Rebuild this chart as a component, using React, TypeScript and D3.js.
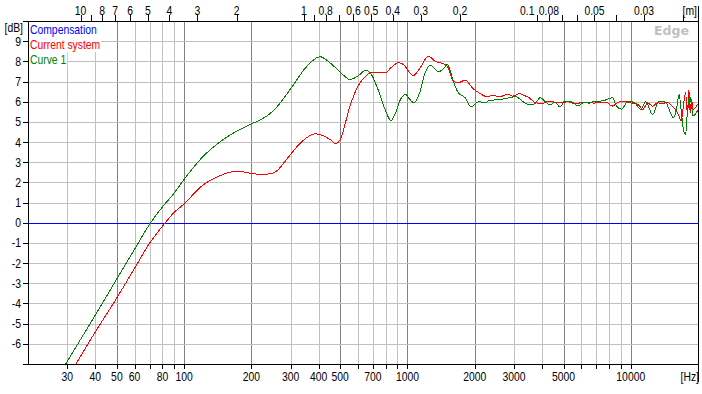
import React, { useEffect, useRef } from 'react';
import * as d3 from 'd3';

// Frequency response data (Hz, dB)
const currentFreq = [32.8, 40, 50, 60, 70, 80, 90, 100, 120, 150, 172, 200, 219, 240, 262, 280, 300, 325, 350, 388, 450, 478, 500, 553, 600, 656, 682, 794, 843, 911, 959, 1010, 1063, 1140, 1241, 1330, 1424, 1500, 1606, 1690, 1811, 1973, 2120, 2265, 2420, 2590, 2816, 2960, 3167, 3330, 3500, 3740, 4000, 4280, 4580, 4900, 5240, 5600, 6000, 6410, 6860, 7090, 7840, 8250, 8820, 9270, 9900, 10780, 11330, 11910, 12520, 13160, 13840, 14550, 15300, 15800, 16330, 16800, 17200, 17600, 17960, 18200, 18450, 18700, 19000, 20000];
const currentDb = [-7.0, -5.42, -3.72, -2.26, -1.02, -0.17, 0.5, 0.94, 1.82, 2.4, 2.56, 2.45, 2.4, 2.42, 2.6, 2.98, 3.39, 3.85, 4.18, 4.41, 4.13, 3.92, 4.13, 5.78, 6.77, 7.3, 7.43, 7.43, 7.68, 7.93, 7.85, 7.52, 7.3, 7.68, 8.26, 8.01, 7.9, 7.8, 7.02, 6.94, 7.07, 6.64, 6.4, 6.25, 6.31, 6.25, 6.36, 6.28, 6.4, 6.31, 6.2, 5.95, 5.9, 6.03, 5.98, 5.95, 6.0, 5.9, 5.95, 5.98, 5.93, 5.95, 5.95, 5.78, 5.98, 6.03, 5.95, 5.86, 5.62, 5.95, 5.78, 5.95, 5.9, 5.98, 5.78, 5.62, 5.37, 5.04, 5.78, 6.45, 5.29, 6.6, 5.45, 6.11, 5.62, 5.9];

const curve1Freq = [29.5, 40, 50, 60, 70, 80, 90, 100, 120, 150, 200, 219, 250, 300, 350, 406, 450, 500, 553, 600, 650, 682, 720, 748, 794, 843, 886, 934, 984, 1010, 1070, 1140, 1200, 1262, 1330, 1376, 1450, 1510, 1580, 1635, 1690, 1811, 1925, 2080, 2227, 2340, 2590, 2870, 3060, 3270, 3500, 3690, 3940, 4140, 4350, 4580, 4820, 5060, 5420, 5800, 6200, 6520, 6860, 7340, 7840, 8250, 8650, 9100, 9710, 10390, 11100, 11670, 12520, 13390, 14320, 15050, 15560, 16110, 16460, 16800, 17200, 17600, 17960, 18320, 18700, 19000, 20000];
const curve1Db = [-7.0, -4.58, -2.78, -1.32, -0.08, 0.79, 1.45, 2.15, 3.22, 4.13, 4.9, 5.09, 5.53, 6.64, 7.68, 8.23, 7.93, 7.47, 7.1, 7.27, 7.55, 7.43, 6.9, 6.44, 5.62, 5.07, 5.45, 6.15, 6.36, 6.2, 5.95, 6.52, 7.43, 7.8, 7.63, 7.48, 7.63, 7.85, 7.27, 6.77, 6.44, 6.2, 5.75, 6.0, 5.95, 6.07, 6.1, 6.2, 6.25, 6.03, 5.85, 5.88, 6.2, 6.0, 5.85, 5.98, 5.73, 6.03, 6.0, 5.8, 5.98, 5.92, 6.03, 6.03, 6.11, 6.2, 5.78, 5.62, 6.03, 5.95, 5.62, 6.0, 5.37, 6.03, 5.98, 5.45, 5.2, 5.78, 6.36, 5.62, 4.63, 4.38, 5.62, 6.28, 5.86, 5.29, 5.6];

const compensationFreq = [20, 20000];
const compensationDb = [0, 0];

const legendNames = ['Compensation', 'Current system', 'Curve 1'];
const legendColors = ['#0000ff', '#ff0000', '#008000'];

const freqLabels = [30, 40, 50, 60, 80, 100, 200, 300, 400, 500, 700, 1000, 2000, 3000, 5000, 10000];
const dbLabels = [9, 8, 7, 6, 5, 4, 3, 2, 1, 0, -1, -2, -3, -4, -5, -6];
const distLabels = ['10', '8', '7', '6', '5', '4', '3', '2', '1', '0.8', '0.6', '0.5', '0.4', '0.3', '0.2', '0.1', '0.08', '0.05', '0.03'];

const SOUND = 344;
const FONT = '"Liberation Sans", Arial, sans-serif';
const SX = 0.83; // narrow the font horizontally, like the old GUI font

const App = () => {
  const ref = useRef<SVGSVGElement>(null);

  useEffect(() => {
    const svg = d3.select(ref.current);
    svg.selectAll('*').remove();

    const left = 28, right = 698, top = 21, bottom = 364;
    const x = d3.scaleLog().domain([20, 20000]).range([left, right]);
    const y = d3.scaleLinear().domain([-7, 10]).range([bottom, top]);
    const px = (v: number) => Math.round(v) + 0.5;

    svg.append('rect').attr('width', 702).attr('height', 394).attr('fill', '#fff');

    // vertical grid
    const gridFreqs: number[] = [];
    [10, 100, 1000, 10000].forEach(d => {
      for (let m = 1; m <= 9; m++) {
        const f = d * m;
        if (f > 20 && f < 20000) gridFreqs.push(f);
      }
    });
    const g = svg.append('g');
    gridFreqs.forEach(f => {
      const m = Math.round(f / Math.pow(10, Math.floor(Math.log10(f) + 1e-9)));
      const dark = m === 1 || m === 2 || m === 5;
      g.append('line')
        .attr('x1', px(x(f))).attr('x2', px(x(f)))
        .attr('y1', top).attr('y2', bottom)
        .attr('stroke', dark ? '#808080' : '#c0c0c0');
      g.append('line')
        .attr('x1', px(x(f))).attr('x2', px(x(f)))
        .attr('y1', bottom).attr('y2', bottom + 5)
        .attr('stroke', '#000');
    });

    // horizontal grid
    d3.range(-6, 10).forEach(v => {
      g.append('line')
        .attr('x1', left).attr('x2', right)
        .attr('y1', px(y(v))).attr('y2', px(y(v)))
        .attr('stroke', '#c0c0c0');
    });
    d3.range(-7, 11).forEach(v => {
      g.append('line')
        .attr('x1', left - 5).attr('x2', left)
        .attr('y1', px(y(v))).attr('y2', px(y(v)))
        .attr('stroke', '#000');
    });

    // top distance ticks
    const dists: number[] = [];
    for (let i = 2; i <= 10; i++) dists.push(i);
    for (let i = 2; i <= 10; i++) dists.push(i / 10);
    for (let i = 2; i <= 9; i++) dists.push(i / 100);
    dists.forEach(d => {
      const xx = px(x(SOUND / d));
      g.append('line').attr('x1', xx).attr('x2', xx)
        .attr('y1', top - 6).attr('y2', top).attr('stroke', '#000');
    });

    // axes frame
    g.append('line').attr('x1', left - 5).attr('x2', right).attr('y1', px(top)).attr('y2', px(top)).attr('stroke', '#000');
    g.append('line').attr('x1', left - 5).attr('x2', right).attr('y1', px(bottom)).attr('y2', px(bottom)).attr('stroke', '#000');
    g.append('line').attr('x1', px(left)).attr('x2', px(left)).attr('y1', top).attr('y2', bottom).attr('stroke', '#000');
    g.append('line').attr('x1', px(right)).attr('x2', px(right)).attr('y1', 6).attr('y2', 382).attr('stroke', '#000');

    // labels
    const t = svg.append('g').attr('font-family', FONT).attr('font-size', 12.5).attr('fill', '#000');
    const label = (lx: number, ly: number, s: string | number, anchor: string) =>
      t.append('text')
        .attr('transform', `translate(${lx},${ly}) scale(${SX},1)`)
        .attr('text-anchor', anchor).text(s);

    freqLabels.forEach(f => label(x(f), 381, f, 'middle'));
    label(699, 381, '[Hz]', 'end');
    dbLabels.forEach(v => label(21, y(v) + 4.5, v, 'end'));
    label(23, 32, '[dB]', 'end');
    distLabels.forEach(d => label(x(SOUND / +d), 14.5, d, 'middle'));
    label(697, 14.5, '[m]', 'end');

    // watermark
    svg.append('text').attr('x', 689).attr('y', 35).attr('text-anchor', 'end')
      .attr('font-family', '"DejaVu Sans", sans-serif').attr('font-weight', 'bold')
      .attr('font-size', 12.5).attr('fill', '#c0c0c0').text('Edge');

    // curves
    svg.append('clipPath').attr('id', 'plot-clip').append('rect')
      .attr('x', left).attr('y', top).attr('width', right - left).attr('height', bottom - top);
    const line = d3.line<[number, number]>()
      .x(d => x(d[0])).y(d => y(d[1]))
      .curve(d3.curveMonotoneX);
    const series = [
      { f: compensationFreq, v: compensationDb, c: legendColors[0] },
      { f: currentFreq, v: currentDb, c: legendColors[1] },
      { f: curve1Freq, v: curve1Db, c: legendColors[2] },
    ];
    const cg = svg.append('g').attr('clip-path', 'url(#plot-clip)');
    series.forEach((s, i) => {
      const pts = s.f.map((f, j) => [f, s.v[j]] as [number, number]);
      cg.append('path')
        .attr('d', i === 0 ? `M${left},${px(y(0))}H${right}` : line(pts))
        .attr('fill', 'none').attr('stroke', s.c).attr('stroke-width', 1)
        .attr('shape-rendering', 'crispEdges');
    });

    // legend with opaque text background
    const lg = svg.append('g').attr('font-family', FONT).attr('font-size', 12.5);
    legendNames.forEach((name, i) => {
      const by = 34 + i * 15;
      const bg = lg.append('rect').attr('fill', '#fff');
      const txt = lg.append('text')
        .attr('transform', `translate(30,${by}) scale(${SX},1)`)
        .attr('fill', legendColors[i]).text(name);
      const w = (txt.node() as SVGTextElement).getComputedTextLength() * SX;
      bg.attr('x', 29).attr('y', by - 12).attr('width', w + 2).attr('height', 15);
    });
  }, []);

  return <svg ref={ref} width={702} height={394} style={{ position: 'absolute', left: 0, top: 0 }} />;
};

export default App;
